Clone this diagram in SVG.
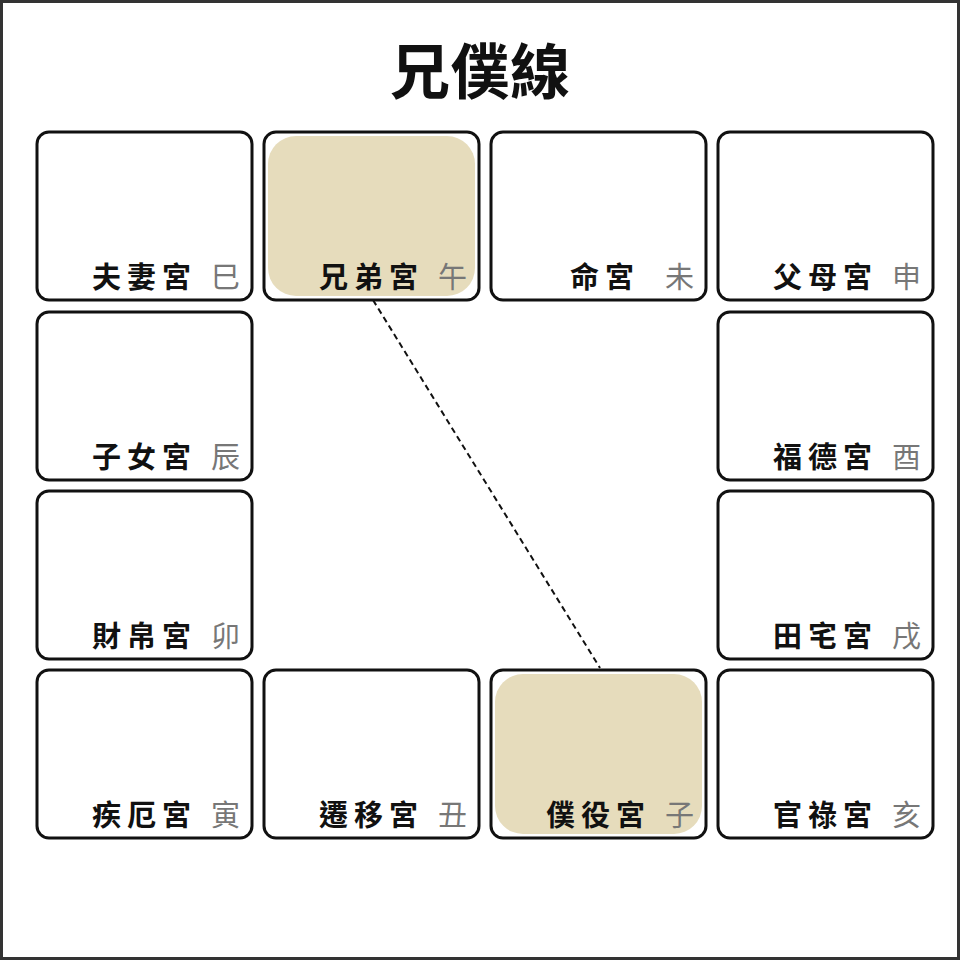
<svg xmlns="http://www.w3.org/2000/svg" width="960" height="960" viewBox="0 0 960 960">
<style>
.c{fill:#fff;stroke:#111;stroke-width:3}
.h{fill:#e6dcbc}
.n{font-family:"Noto Sans CJK TC",sans-serif;font-weight:bold;font-size:29px;fill:#111;letter-spacing:6px;text-anchor:end}
.b{font-family:"Noto Sans CJK TC",sans-serif;font-size:29px;fill:#777;text-anchor:end}
</style>
<rect x="1.5" y="1.5" width="957" height="957" fill="#fff" stroke="#333" stroke-width="3"/>
<text x="480" y="94" font-family="Noto Sans CJK TC,sans-serif" font-weight="bold" font-size="60" text-anchor="middle" fill="#111">兄僕線</text>
<g id="connectors"><line x1="373" y1="300" x2="600" y2="668" stroke="#111" stroke-width="2" stroke-dasharray="6,4"/></g>
<g id="n1"><rect class="c" x="37" y="132" width="215" height="168" rx="12"/><text class="n" x="197" y="288">夫妻宮</text><text class="b" x="240" y="288">巳</text></g>
<g id="n2"><rect class="c" x="264" y="132" width="215" height="168" rx="12"/><rect class="h" x="268" y="136" width="207" height="160" rx="28"/><text class="n" x="424" y="288">兄弟宮</text><text class="b" x="467" y="288">午</text></g>
<g id="n3"><rect class="c" x="491" y="132" width="215" height="168" rx="12"/><text class="n" x="640" y="288">命宮</text><text class="b" x="694" y="288">未</text></g>
<g id="n4"><rect class="c" x="718" y="132" width="215" height="168" rx="12"/><text class="n" x="878" y="288">父母宮</text><text class="b" x="921" y="288">申</text></g>
<g id="n5"><rect class="c" x="37" y="312" width="215" height="168" rx="12"/><text class="n" x="197" y="468">子女宮</text><text class="b" x="240" y="468">辰</text></g>
<g id="n6"><rect class="c" x="718" y="312" width="215" height="168" rx="12"/><text class="n" x="878" y="468">福德宮</text><text class="b" x="921" y="468">酉</text></g>
<g id="n7"><rect class="c" x="37" y="491" width="215" height="168" rx="12"/><text class="n" x="197" y="647">財帛宮</text><text class="b" x="240" y="647">卯</text></g>
<g id="n8"><rect class="c" x="718" y="491" width="215" height="168" rx="12"/><text class="n" x="878" y="647">田宅宮</text><text class="b" x="921" y="647">戌</text></g>
<g id="n9"><rect class="c" x="37" y="670" width="215" height="168" rx="12"/><text class="n" x="197" y="826">疾厄宮</text><text class="b" x="240" y="826">寅</text></g>
<g id="n10"><rect class="c" x="264" y="670" width="215" height="168" rx="12"/><text class="n" x="424" y="826">遷移宮</text><text class="b" x="467" y="826">丑</text></g>
<g id="n11"><rect class="c" x="491" y="670" width="215" height="168" rx="12"/><rect class="h" x="495" y="674" width="207" height="160" rx="28"/><text class="n" x="651" y="826">僕役宮</text><text class="b" x="694" y="826">子</text></g>
<g id="n12"><rect class="c" x="718" y="670" width="215" height="168" rx="12"/><text class="n" x="878" y="826">官祿宮</text><text class="b" x="921" y="826">亥</text></g>
</svg>
